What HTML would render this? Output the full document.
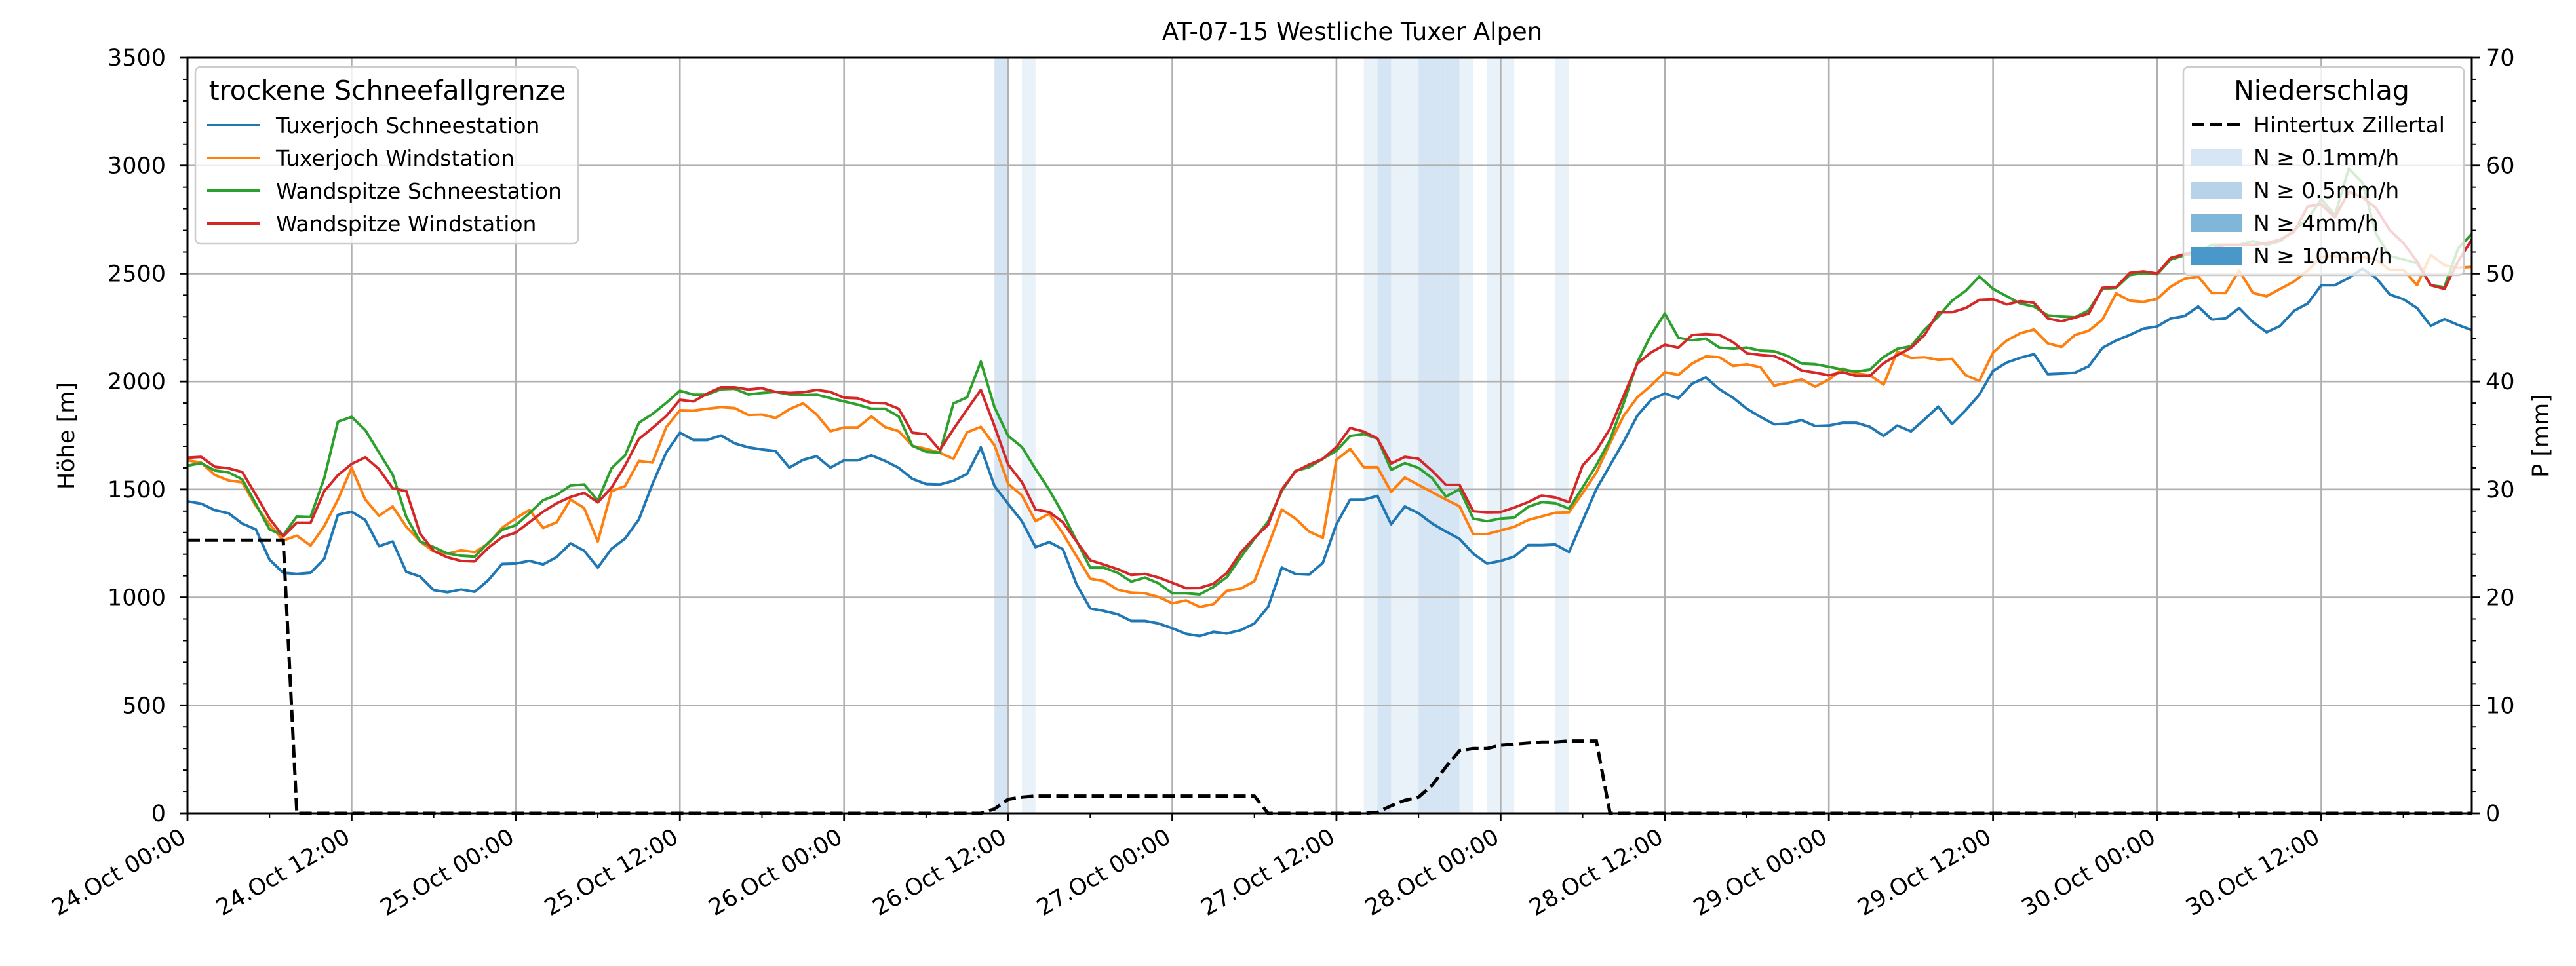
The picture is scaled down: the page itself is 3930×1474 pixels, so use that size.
<!DOCTYPE html>
<html><head><meta charset="utf-8">
<style>
html,body{margin:0;padding:0;background:#fff;}
svg{display:block;font-family:"DejaVu Sans","Liberation Sans",sans-serif;}
</style></head>
<body>
<svg id="chart" width="3930" height="1474" viewBox="0 0 3930 1474" xmlns="http://www.w3.org/2000/svg">
<rect x="0" y="0" width="3930" height="1474" fill="#fff"/>
<g id="bands"></g>
<g id="grid"></g>
<g id="series"></g>
<g id="axes"></g>
<text x="2063" y="61" text-anchor="middle" font-size="37">AT-07-15 Westliche Tuxer Alpen</text>
<text transform="translate(113,665) rotate(-90)" text-anchor="middle" font-size="35">Höhe [m]</text>
<text transform="translate(3888,665) rotate(-90)" text-anchor="middle" font-size="35">P [mm]</text>
<g id="legends"></g>
</svg>
<script>
const hoursCount = 168;
const blueVals = [1445,1434,1404,1390,1342,1315,1175,1114,1109,1114,1179,1383,1397,1358,1237,1259,1118,1097,1034,1024,1037,1026,1080,1155,1157,1169,1153,1187,1250,1216,1138,1225,1273,1361,1526,1671,1763,1729,1729,1750,1714,1695,
1685,1678,1601,1637,1654,1601,1635,1635,1658,1632,1600,1549,1525,1523,1540,1572,1695,1516,1433,1353,1233,1256,1223,1061,949,937,922,891,891,879,857,831,821,840,833,848,879,956,1138,1109,1106,1160,
1339,1453,1453,1470,1339,1421,1390,1342,1305,1271,1203,1157,1169,1189,1242,1242,1245,1210,1356,1501,1612,1722,1842,1915,1945,1922,1990,2019,1964,1925,1874,1836,1802,1806,1821,1794,1796,1809,1809,1790,1748,
1796,1769,1825,1884,1803,1867,1939,2049,2088,2110,2127,2034,2037,2041,2071,2156,2190,2216,2245,2255,2292,2303,2347,2287,2292,2340,2275,2228,2258,2327,2361,2446,2446,2480,2522,2480,2403,2381,2340,2258,2289,2262,2238];
const orangeVals = [1635,1624,1567,1542,1533,1424,1339,1264,1286,1240,1330,1453,1600,1453,1378,1421,1327,1259,1213,1203,1218,1210,1249,1322,1366,1405,1322,1348,1453,1414,1259,1492,1516,1632,1625,1789,1867,1865,1874,1881,1877,1845,
1847,1831,1871,1899,1847,1770,1787,1787,1838,1789,1770,1702,1688,1670,1642,1765,1790,1705,1526,1472,1353,1388,1296,1191,1087,1075,1036,1022,1019,1002,973,986,956,969,1031,1041,1075,1237,1407,1365,1305,1276,
1637,1688,1603,1603,1489,1555,1521,1487,1453,1422,1293,1293,1310,1327,1358,1375,1392,1394,1484,1578,1714,1842,1927,1981,2043,2031,2083,2116,2112,2072,2080,2066,1981,1995,2010,1976,2009,2060,2038,2029,1986,
2139,2109,2112,2100,2105,2029,2003,2134,2190,2224,2241,2177,2160,2216,2235,2287,2408,2374,2369,2383,2440,2476,2486,2410,2410,2514,2410,2395,2429,2463,2514,2578,2582,2565,2578,2565,2517,2517,2446,2587,2539,2527,2531];
const greenVals = [1610,1622,1588,1579,1547,1433,1315,1288,1375,1373,1552,1814,1836,1775,1671,1569,1373,1259,1233,1204,1193,1189,1254,1313,1334,1390,1450,1475,1518,1523,1448,1598,1659,1809,1850,1901,1957,1939,1939,1964,1966,1940,
1947,1952,1940,1937,1939,1923,1908,1893,1874,1874,1838,1702,1675,1671,1898,1927,2092,1881,1748,1697,1595,1498,1387,1262,1138,1138,1114,1073,1092,1065,1019,1019,1014,1048,1095,1186,1271,1351,1492,1586,1603,1642,
1680,1748,1756,1736,1591,1622,1600,1552,1467,1501,1365,1353,1365,1370,1419,1441,1436,1411,1510,1612,1731,1901,2089,2216,2315,2203,2191,2199,2157,2152,2157,2143,2140,2118,2083,2080,2068,2055,2046,2055,2114,
2151,2163,2241,2301,2374,2420,2486,2429,2395,2361,2347,2306,2301,2298,2330,2429,2434,2493,2502,2497,2565,2585,2599,2633,2633,2633,2650,2633,2650,2701,2752,2845,2769,2986,2922,2684,2582,2565,2548,2446,2437,2616,2684];
const redVals = [1647,1651,1605,1598,1581,1475,1365,1283,1346,1346,1492,1566,1618,1649,1594,1506,1492,1296,1215,1186,1169,1167,1230,1279,1300,1348,1397,1436,1465,1484,1440,1508,1612,1734,1785,1840,1915,1908,1944,1973,1973,1963,
1969,1952,1947,1950,1961,1952,1925,1922,1901,1899,1874,1763,1756,1683,1779,1871,1961,1794,1615,1534,1407,1395,1348,1259,1172,1152,1131,1104,1109,1092,1068,1043,1044,1063,1114,1208,1276,1336,1500,1583,1615,1642,
1697,1785,1768,1736,1620,1651,1642,1586,1521,1521,1399,1394,1395,1416,1441,1472,1463,1441,1612,1680,1782,1935,2083,2135,2170,2157,2215,2220,2216,2182,2131,2123,2118,2089,2051,2041,2029,2043,2026,2026,2085,
2122,2156,2216,2321,2321,2340,2378,2381,2357,2372,2364,2292,2279,2296,2315,2434,2437,2503,2510,2500,2573,2590,2607,2616,2633,2633,2633,2641,2658,2692,2811,2820,2760,2879,2854,2803,2701,2641,2556,2446,2429,2556,2658];
const precipVals = [25.3,25.3,25.3,25.3,25.3,25.3,25.3,25.3,
0,0,0,0,0,0,0,0,0,0,0,0,0,0,0,0,0,0,0,0,0,0,0,0,0,0,0,0,0,0,0,0,0,0,0,0,0,0,0,0,0,0,0,0,0,0,0,0,0,0,0,
0.4,1.3,1.5,1.6,1.6,1.6,1.6,1.6,1.6,1.6,1.6,1.6,1.6,1.6,1.6,1.6,1.6,1.6,1.6,1.6,
0,0,0,0,0,0,0,0,
0.1,0.7,1.2,1.5,2.6,4.3,5.8,6.0,6.0,6.3,6.4,6.5,6.6,6.6,6.7,6.7,6.7,
0,0,0,0,0,0,0,0,0,0,0,0,0,0,0,0,0,0,0,0,0,0,0,0,0,0,0,0,0,0,0,0,0,0,0,0,0,0,0,0,0,0,0,0,0,0,0,0,0,0,0,0,0,0,0,0,0,0,0,0,0,0,0,0];
const bandStart = [59,61,86,87,88,89,90,91,92,93,95,96,100];
const bandRate = [0.6,0.2,0.2,0.6,0.2,0.2,0.6,0.6,0.6,0.2,0.2,0.2,0.2];
const xTickLabels = ["24.Oct 00:00","24.Oct 12:00","25.Oct 00:00","25.Oct 12:00","26.Oct 00:00","26.Oct 12:00","27.Oct 00:00","27.Oct 12:00","28.Oct 00:00","28.Oct 12:00","29.Oct 00:00","29.Oct 12:00","30.Oct 00:00","30.Oct 12:00"];
const yTicks = [0,500,1000,1500,2000,2500,3000,3500];
const y2Ticks = [0,10,20,30,40,50,60,70];

const NS = "http://www.w3.org/2000/svg";
const L = 286, R = 3771, T = 88, B = 1241;
const xMax = 167, yMax = 3500, y2Max = 70;
const xs = h => L + (R - L) * h / xMax;
const ys = v => B - (B - T) * v / yMax;
const y2s = v => B - (B - T) * v / y2Max;
function mk(tag, attrs, parent) {
  const e = document.createElementNS(NS, tag);
  for (const k in attrs) e.setAttribute(k, attrs[k]);
  parent.appendChild(e);
  return e;
}
const gBands = document.getElementById('bands');
const gGrid = document.getElementById('grid');
const gSeries = document.getElementById('series');
const gAxes = document.getElementById('axes');
const gLeg = document.getElementById('legends');

bandStart.forEach((h, i) => {
  const r = bandRate[i];
  const col = r >= 10 ? '#a5cbe4' : r >= 4 ? '#bfdaec' : r >= 0.5 ? '#d5e5f3' : '#eaf2f9';
  const el = mk('rect', {x: xs(h), y: T, width: xs(h + 1) - xs(h), height: B - T, fill: col}, gBands);
  
  
});

for (let i = 0; i < xTickLabels.length; i++) {
  const x = xs(i * 12);
  const el = mk('line', {x1: x, x2: x, y1: T, y2: B, stroke: '#b0b0b0', 'stroke-width': 2.6}, gGrid);
  
  
}
yTicks.forEach(v => {
  const el = mk('line', {x1: L, x2: R, y1: ys(v), y2: ys(v), stroke: '#b0b0b0', 'stroke-width': 2.6}, gGrid);
  
  
});

const seriesList = [[blueVals, '#1f77b4', 'line-tuxerjoch-schneestation'], [orangeVals, '#ff7f0e', 'line-tuxerjoch-windstation'], [greenVals, '#2ca02c', 'line-wandspitze-schneestation'], [redVals, '#d62728', 'line-wandspitze-windstation']];
seriesList.forEach(s => {
  const pts = s[0].map((v, i) => xs(i).toFixed(1) + ',' + ys(v).toFixed(1)).join(' ');
  const el = mk('polyline', {points: pts, fill: 'none', stroke: s[1], 'stroke-width': 4, 'stroke-linejoin': 'round'}, gSeries);
  
  
});
{
  const pts = precipVals.map((v, i) => xs(i).toFixed(1) + ',' + y2s(v).toFixed(1)).join(' ');
  const el = mk('polyline', {points: pts, fill: 'none', stroke: '#000', 'stroke-width': 5, 'stroke-dasharray': '19 8'}, gSeries);
  
  
}

{
  const el = mk('rect', {x: L, y: T, width: R - L, height: B - T, fill: 'none', stroke: '#000', 'stroke-width': 3}, gAxes);
  
  
}
for (let h = 0; h <= xMax; h += 6) {
  const major = h % 12 === 0;
  const el = mk('line', {x1: xs(h), x2: xs(h), y1: B, y2: B + (major ? 12 : 7), stroke: '#000', 'stroke-width': major ? 2.8 : 2}, gAxes);
  
  
}
xTickLabels.forEach((lab, i) => {
  const x = xs(i * 12);
  const t = mk('text', {transform: `translate(${x},1284) rotate(-30)`, 'text-anchor': 'end', 'font-size': 35}, gAxes);
  t.textContent = lab;
  
  
});
for (let v = 0; v <= yMax; v += 100) {
  const major = v % 500 === 0;
  const el = mk('line', {x1: L - (major ? 12 : 7), x2: L, y1: ys(v), y2: ys(v), stroke: '#000', 'stroke-width': major ? 2.8 : 2}, gAxes);
  
  
}
yTicks.forEach(v => {
  const t = mk('text', {x: 253, y: ys(v) + 12, 'text-anchor': 'end', 'font-size': 35}, gAxes);
  t.textContent = String(v);
  
  
});
for (let v = 0; v <= y2Max; v += 2) {
  const major = v % 10 === 0;
  const el = mk('line', {x1: R, x2: R + (major ? 12 : 7), y1: y2s(v), y2: y2s(v), stroke: '#000', 'stroke-width': major ? 2.8 : 2}, gAxes);
  
  
}
y2Ticks.forEach(v => {
  const t = mk('text', {x: 3792, y: y2s(v) + 12, 'text-anchor': 'start', 'font-size': 35}, gAxes);
  t.textContent = String(v);
  
  
});

{
  const box = mk('rect', {x: 298, y: 102, width: 584, height: 270, rx: 8, fill: '#fff', 'fill-opacity': 0.8, stroke: '#cccccc', 'stroke-width': 2.5}, gLeg);
  
  
  const tt = mk('text', {x: 591, y: 152, 'text-anchor': 'middle', 'font-size': 41}, gLeg);
  tt.textContent = 'trockene Schneefallgrenze';
  
  
  const names = ['Tuxerjoch Schneestation', 'Tuxerjoch Windstation', 'Wandspitze Schneestation', 'Wandspitze Windstation'];
  names.forEach((n, i) => {
    const y = 191 + i * 50;
    const ln = mk('line', {x1: 316, x2: 396, y1: y, y2: y, stroke: seriesList[i][1], 'stroke-width': 4}, gLeg);
    
    
    const t = mk('text', {x: 421, y: y + 12, 'font-size': 33}, gLeg);
    t.textContent = n;
    
    
  });
}
{
  const box = mk('rect', {x: 3331, y: 102, width: 428, height: 318, rx: 8, fill: '#fff', 'fill-opacity': 0.8, stroke: '#cccccc', 'stroke-width': 2.5}, gLeg);
  
  
  const tt = mk('text', {x: 3542, y: 152, 'text-anchor': 'middle', 'font-size': 41}, gLeg);
  tt.textContent = 'Niederschlag';
  
  
  const dl = mk('line', {x1: 3344, x2: 3422, y1: 190, y2: 190, stroke: '#000', 'stroke-width': 5, 'stroke-dasharray': '19 8'}, gLeg);
  
  
  const t0 = mk('text', {x: 3438, y: 202, 'font-size': 33}, gLeg);
  t0.textContent = 'Hintertux Zillertal';
  
  
  const labs = ['N ≥ 0.1mm/h', 'N ≥ 0.5mm/h', 'N ≥ 4mm/h', 'N ≥ 10mm/h'];
  const cols = ['#d6e6f4', '#b7d3e9', '#80b6da', '#4a97c9'];
  labs.forEach((lab, i) => {
    const y = 240 + i * 50;
    const p = mk('rect', {x: 3343, y: y - 13, width: 78, height: 27, fill: cols[i]}, gLeg);
    
    
    const t = mk('text', {x: 3438, y: y + 12, 'font-size': 33}, gLeg);
    t.textContent = lab;
    
    
  });
}
</script>
</body></html>
